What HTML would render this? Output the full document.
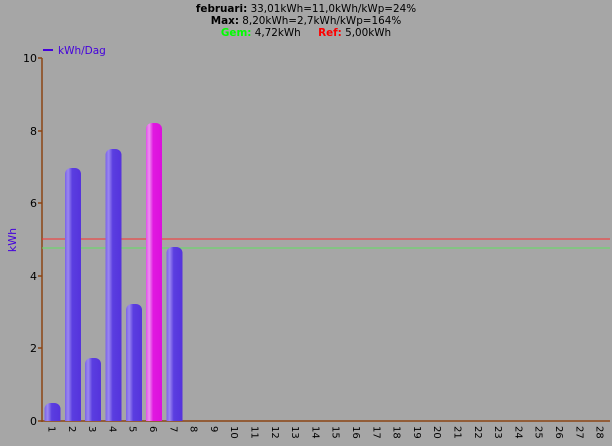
<!DOCTYPE html>
<html><head><style>
body{margin:0;background:#a6a6a6;}
svg{display:block;font-family:"DejaVu Sans","Liberation Sans",sans-serif;}
</style></head><body>
<svg width="612" height="446" xmlns="http://www.w3.org/2000/svg">
<defs>
<linearGradient id="b" x1="0" x2="1">
<stop offset="0" stop-color="#7a62e8"/><stop offset="0.2" stop-color="#9b88f0"/><stop offset="0.45" stop-color="#5a3ee0"/><stop offset="1" stop-color="#5533dc"/>
</linearGradient>
<linearGradient id="m" x1="0" x2="1">
<stop offset="0" stop-color="#e050e8"/><stop offset="0.2" stop-color="#ee90f0"/><stop offset="0.45" stop-color="#e018e0"/><stop offset="1" stop-color="#dc10dc"/>
</linearGradient>
</defs>
<rect width="612" height="446" fill="#a6a6a6"/>
<g font-size="10.4" text-anchor="middle" fill="#000">
<text x="306" y="12"><tspan font-weight="bold">februari:</tspan> 33,01kWh=11,0kWh/kWp=24%</text>
<text x="306" y="24"><tspan font-weight="bold">Max:</tspan> 8,20kWh=2,7kWh/kWp=164%</text>
<text x="306" y="36"><tspan font-weight="bold" fill="#00ff00">Gem:</tspan> 4,72kWh <tspan dx="14" font-weight="bold" fill="#ff0000">Ref:</tspan> 5,00kWh</text>
</g>
<line x1="43" y1="50" x2="53" y2="50" stroke="#4400dd" stroke-width="2"/>
<text x="58" y="54" font-size="10.5" fill="#4400dd">kWh/Dag</text>
<text x="16" y="240" font-size="11" fill="#4400dd" transform="rotate(-90 16 240)" text-anchor="middle">kWh</text>
<g font-size="11" text-anchor="end" fill="#000">
<text x="37" y="62">10</text><text x="37" y="135">8</text><text x="37" y="207">6</text><text x="37" y="280">4</text><text x="37" y="352">2</text><text x="37" y="425">0</text>
</g>
<g stroke="#8b4513" stroke-width="1.5">
<line x1="42" y1="58" x2="42" y2="422"/>
<line x1="42" y1="421" x2="610" y2="421"/>
<line x1="38" y1="58" x2="42" y2="58"/><line x1="38" y1="131" x2="42" y2="131"/><line x1="38" y1="203" x2="42" y2="203"/><line x1="38" y1="276" x2="42" y2="276"/><line x1="38" y1="348" x2="42" y2="348"/><line x1="38" y1="421" x2="42" y2="421"/>
</g>
<line x1="42" y1="239" x2="610" y2="239" stroke="#ff3030" stroke-width="1"/>
<line x1="42" y1="248" x2="610" y2="248" stroke="#60e060" stroke-width="1"/>
<g>
<path d="M44.5,421 V409 a6,6 0 0 1 6,-6 h4 a6,6 0 0 1 6,6 V421Z" fill="url(#b)"/>
<path d="M65,421 V174 a6,6 0 0 1 6,-6 h4 a6,6 0 0 1 6,6 V421Z" fill="url(#b)"/>
<path d="M85,421 V364 a6,6 0 0 1 6,-6 h4 a6,6 0 0 1 6,6 V421Z" fill="url(#b)"/>
<path d="M105.5,421 V155 a6,6 0 0 1 6,-6 h4 a6,6 0 0 1 6,6 V421Z" fill="url(#b)"/>
<path d="M126,421 V310 a6,6 0 0 1 6,-6 h4 a6,6 0 0 1 6,6 V421Z" fill="url(#b)"/>
<path d="M146,421 V129 a6,6 0 0 1 6,-6 h4 a6,6 0 0 1 6,6 V421Z" fill="url(#m)"/>
<path d="M166.5,421 V253 a6,6 0 0 1 6,-6 h4 a6,6 0 0 1 6,6 V421Z" fill="url(#b)"/>
</g>
<g font-size="10" fill="#000" id="xl"></g>
<script>
var g=document.getElementById('xl');
for(var i=1;i<=28;i++){var x=52.5+(i-1)*20.3;var t=document.createElementNS('http://www.w3.org/2000/svg','text');
t.setAttribute('transform','translate('+(x-4)+',426) rotate(90)');t.textContent=i;g.appendChild(t);}
</script>
</svg>
</body></html>
